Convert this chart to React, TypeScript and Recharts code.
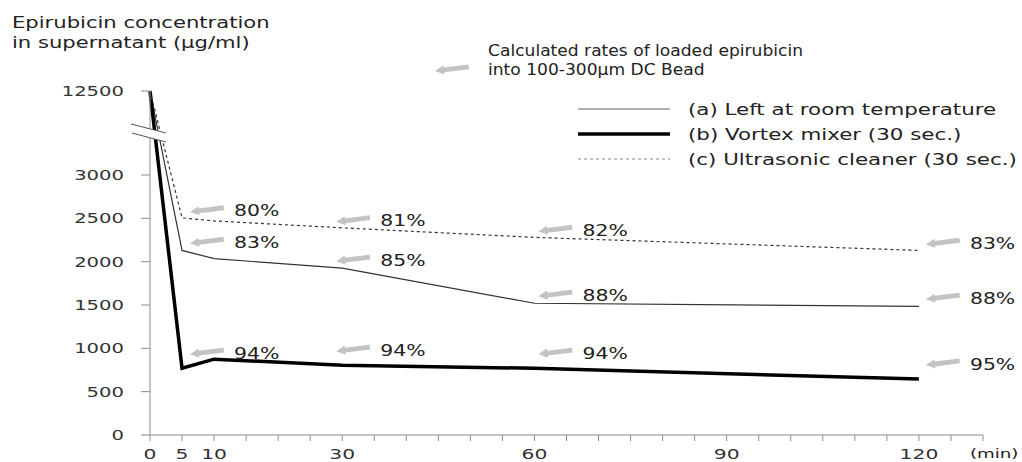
import React from 'react';
import { LineChart, Line, XAxis, YAxis, LabelList } from 'recharts';

// sampling times (min)
const minutes = [0, 5, 10, 30, 60, 120];

// epirubicin in supernatant (ug/ml)
const roomTemp = [12500, 2130, 2035, 1925, 1520, 1485];
const vortex = [12500, 770, 875, 805, 770, 645];
const ultrasonic = [12500, 2505, 2470, 2390, 2280, 2130];

// loading rates (%) shown next to the arrows
const roomTempRates = [null, 83, null, 85, 88, 88];
const vortexRates = [null, 94, null, 94, 94, 95];
const ultrasonicRates = [null, 80, null, 81, 82, 83];

const yTicks = [0, 500, 1000, 1500, 2000, 2500, 3000, 12500];
const xTicks = [0, 5, 10, 15, 20, 25, 30, 35, 40, 45, 50, 55, 60, 65, 70, 75, 80, 85, 90, 95, 100, 105, 110, 115, 120, 125, 130];
const xLabels = [0, 5, 10, 30, 60, 90, 120];

// broken y axis: everything above 3000 is squeezed
const BREAK = 3000;
const SQUEEZE = 0.102;
const toAxis = (v: number) => (v <= BREAK ? v : BREAK + (v - BREAK) * SQUEEZE);
const fromAxis = (v: number) => (v <= BREAK ? v : BREAK + (v - BREAK) / SQUEEZE);

const data = minutes.map((m, i) => ({
  m,
  a: toAxis(roomTemp[i]),
  b: toAxis(vortex[i]),
  c: toAxis(ultrasonic[i]),
  aRate: roomTempRates[i],
  bRate: vortexRates[i],
  cRate: ultrasonicRates[i],
}));

const series = [
  { key: 'a', name: '(a) Left at room temperature', stroke: '#333', width: 1.2, dash: undefined, legendStroke: '#666', labelDy: -7 },
  { key: 'b', name: '(b) Vortex mixer (30 sec.)', stroke: '#000', width: 3.5, dash: undefined, legendStroke: '#000', labelDy: -14 },
  { key: 'c', name: '(c) Ultrasonic cleaner (30 sec.)', stroke: '#333', width: 1.2, dash: '3 3', legendStroke: '#888', labelDy: -6 },
];

// small horizontal nudges of the arrows per sampling time
const arrowDx: Record<number, number> = { 5: 8, 30: -6, 60: 4, 120: 7 };

const FONT = 'DejaVu Sans';

function WideText({ x, y, sx, size, anchor = 'start', fill = '#222', children }: any) {
  return (
    <text
      transform={`translate(${x},${y}) scale(${sx},1)`}
      fontSize={size}
      fontFamily={FONT}
      textAnchor={anchor}
      fill={fill}
    >
      {children}
    </text>
  );
}

function Arrow({ x, y }: { x: number; y: number }) {
  return (
    <polygon
      transform={`translate(${x},${y}) rotate(-7)`}
      points="0,0 9,-4.6 9,-2.4 34,-2.4 34,2.4 9,2.4 9,4.6"
      fill="#c3c3c3"
    />
  );
}

const rateLabel = (dy: number) => (props: any) => {
  const { x, y, value, index } = props;
  if (value == null || x == null) return null;
  const hx = x + (arrowDx[minutes[index]] ?? 5);
  const hy = y + dy;
  return (
    <g>
      <Arrow x={hx} y={hy} />
      <WideText x={hx + 44} y={hy + 4.5} sx={1.36} size={15}>
        {value}%
      </WideText>
    </g>
  );
};

const YTick = ({ x, y, payload }: any) => (
  <WideText x={x} y={y + 5} sx={1.4} size={14} anchor="end" fill="#333">
    {String(Math.round(fromAxis(payload.value)))}
  </WideText>
);

const XTick = ({ x, y, payload }: any) =>
  xLabels.includes(payload.value) ? (
    <WideText x={x} y={y + 16} sx={1.45} size={14} anchor="middle" fill="#333">
      {payload.value}
    </WideText>
  ) : (
    <g />
  );

export default function App() {
  return (
    <div style={{ position: 'absolute', left: 0, top: 0, width: 1022, height: 462, background: '#fff' }}>
      <LineChart
        width={1022}
        height={462}
        data={data}
        margin={{ top: 91, right: 39, bottom: 0, left: 90 }}
      >
        <XAxis
          dataKey="m"
          type="number"
          domain={[0, 130]}
          ticks={xTicks}
          interval={0}
          height={27}
          tickSize={6}
          tickMargin={2}
          stroke="#8c8c8c"
          tick={<XTick />}
        />
        <YAxis
          type="number"
          domain={[0, toAxis(12500)]}
          ticks={yTicks.map(toAxis)}
          interval={0}
          width={60}
          tickSize={9}
          tickMargin={17}
          stroke="#8c8c8c"
          tick={<YTick />}
        />
        {series.map((s) => (
          <Line
            key={s.key}
            dataKey={s.key}
            type="linear"
            stroke={s.stroke}
            strokeWidth={s.width}
            strokeDasharray={s.dash}
            dot={false}
            activeDot={false}
            isAnimationActive={false}
          >
            <LabelList dataKey={`${s.key}Rate`} content={rateLabel(s.labelDy)} />
          </Line>
        ))}
      </LineChart>

      <svg
        width={1022}
        height={462}
        style={{ position: 'absolute', left: 0, top: 0, pointerEvents: 'none' }}
      >
        {/* axis title */}
        <WideText x={12} y={28} sx={1.28} size={16.5}>Epirubicin concentration</WideText>
        <WideText x={12} y={48} sx={1.28} size={16.5}>in supernatant (μg/ml)</WideText>

        {/* break on the y axis */}
        <polygon points="131,124 166,133 166,142 131,133" fill="#fff" />
        <line x1={131} y1={124} x2={166} y2={133} stroke="#555" strokeWidth={1} />
        <line x1={132} y1={133} x2={166} y2={142} stroke="#555" strokeWidth={1} />

        {/* arrow note */}
        <Arrow x={435} y={71} />
        <WideText x={488} y={56} sx={1.14} size={15}>Calculated rates of loaded epirubicin</WideText>
        <WideText x={488} y={75} sx={1.14} size={15}>into 100-300μm DC Bead</WideText>

        {/* legend */}
        {series.map((s, i) => (
          <g key={s.key}>
            <line
              x1={578}
              x2={670}
              y1={109 + i * 25}
              y2={109 + i * 25}
              stroke={s.legendStroke}
              strokeWidth={s.width}
              strokeDasharray={s.dash}
            />
            <WideText x={688} y={115 + i * 25} sx={1.38} size={15.5}>{s.name}</WideText>
          </g>
        ))}

        <WideText x={970} y={458} sx={1.4} size={13}>(min)</WideText>
      </svg>
    </div>
  );
}
